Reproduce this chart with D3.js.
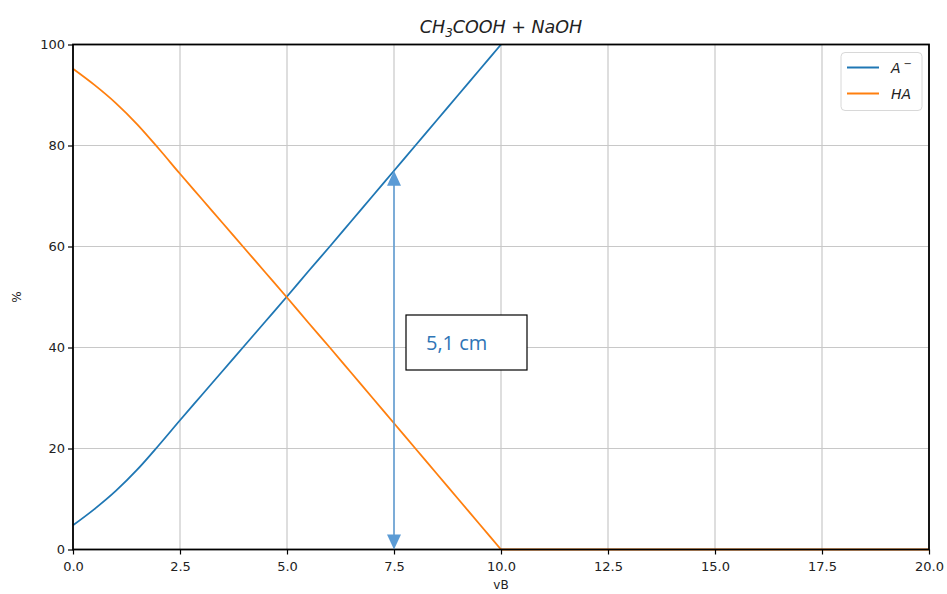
<!DOCTYPE html>
<html>
<head>
<meta charset="utf-8">
<script src="https://cdn.jsdelivr.net/npm/d3@7"></script>
<style>
  body { margin: 0; background: #fff; }
  svg { font-family: "DejaVu Sans", sans-serif; }
</style>
</head>
<body>
<svg id="chart"></svg>
<script>
const width = 947;
const height = 594;
const margin = { top: 44.5, right: 18, bottom: 44.5, left: 73 };

// values
const vB = [0, 0.5, 1, 1.5, 2, 2.5, 3, 3.5, 4, 4.5, 5, 5.5, 6, 6.5, 7, 7.5, 8, 8.5, 9, 9.5, 10];
const aMinus = [4.8, 8.0, 11.6, 15.8, 20.6, 25.6, 30.5, 35.4, 40.3, 45.2, 50.1, 55.1, 60.0, 65.0, 70.0, 75.0, 80.0, 85.0, 90.0, 95.0, 100];
const haX = [0, 0.5, 1, 1.5, 2, 2.5, 3, 3.5, 4, 4.5, 5, 5.5, 6, 6.5, 7, 7.5, 8, 8.5, 9, 9.5, 10, 12.5, 15, 17.5, 20];
const haValues = [95.2, 92.0, 88.4, 84.2, 79.4, 74.4, 69.5, 64.6, 59.7, 54.8, 49.9, 44.9, 40.0, 35.0, 30.0, 25.0, 20.0, 15.0, 10.0, 5.0, 0, 0, 0, 0, 0];
const xTicks = [0, 2.5, 5, 7.5, 10, 12.5, 15, 17.5, 20];
const yTicks = [0, 20, 40, 60, 80, 100];
const arrowX = 7.5;
const arrowTop = 75;
const arrowLabel = "5,1 cm";

const svg = d3.select("#chart").attr("width", width).attr("height", height);

const chartWidth = width - margin.left - margin.right;
const chartHeight = height - margin.top - margin.bottom;

const chart = svg
  .append("g")
  .attr("transform", `translate(${margin.left}, ${margin.top})`);

const xScale = d3.scaleLinear().domain([0, 20]).range([0, chartWidth]);
const yScale = d3.scaleLinear().domain([0, 100]).range([chartHeight, 0]);

// grid
chart
  .append("g")
  .selectAll("line.gx")
  .data(xTicks)
  .enter()
  .append("line")
  .attr("x1", (d) => xScale(d))
  .attr("x2", (d) => xScale(d))
  .attr("y1", 0)
  .attr("y2", chartHeight)
  .attr("stroke", "#c8c8c8")
  .attr("stroke-width", 1.2);

chart
  .append("g")
  .selectAll("line.gy")
  .data(yTicks)
  .enter()
  .append("line")
  .attr("x1", 0)
  .attr("x2", chartWidth)
  .attr("y1", (d) => yScale(d))
  .attr("y2", (d) => yScale(d))
  .attr("stroke", "#c8c8c8")
  .attr("stroke-width", 1.2);

// curves
const smooth = d3
  .line()
  .x((d) => xScale(d[0]))
  .y((d) => yScale(d[1]))
  .curve(d3.curveMonotoneX);
const straight = d3
  .line()
  .x((d) => xScale(d[0]))
  .y((d) => yScale(d[1]));

chart
  .append("path")
  .datum(d3.zip(vB, aMinus))
  .attr("d", smooth)
  .attr("fill", "none")
  .attr("stroke", "#1f77b4")
  .attr("stroke-width", 1.8);

// HA: smooth up to the equivalence point, flat afterwards
const haPoints = d3.zip(haX, haValues);
const eq = haX.indexOf(10);
chart
  .append("path")
  .datum(haPoints.slice(0, eq + 1))
  .attr("d", smooth)
  .attr("fill", "none")
  .attr("stroke", "#ff7f0e")
  .attr("stroke-width", 1.8);
chart
  .append("path")
  .datum(haPoints.slice(eq))
  .attr("d", straight)
  .attr("fill", "none")
  .attr("stroke", "#ff7f0e")
  .attr("stroke-width", 1.8);

// axes
const xAxis = d3
  .axisBottom(xScale)
  .tickValues(xTicks)
  .tickFormat(d3.format(".1f"))
  .tickSize(5)
  .tickSizeOuter(0);
const yAxis = d3
  .axisLeft(yScale)
  .tickValues(yTicks)
  .tickFormat(d3.format("d"))
  .tickSize(5)
  .tickSizeOuter(0);

const gx = chart
  .append("g")
  .attr("transform", `translate(0, ${chartHeight})`)
  .call(xAxis);
const gy = chart.append("g").call(yAxis);

[gx, gy].forEach((g) => {
  g.select(".domain").remove();
  g.selectAll(".tick line").attr("stroke", "#000").attr("stroke-width", 1.2);
  g.selectAll(".tick text")
    .attr("fill", "#222")
    .style("font-size", "13px")
    .style("font-family", "DejaVu Sans");
});
gx.selectAll(".tick text").attr("dy", "1.05em");
gy.selectAll(".tick text").attr("x", -8);

// spines
chart
  .append("rect")
  .attr("width", chartWidth)
  .attr("height", chartHeight)
  .attr("fill", "none")
  .attr("stroke", "#000")
  .attr("stroke-width", 1.8);

// axis labels
svg
  .append("text")
  .attr("x", margin.left + chartWidth / 2)
  .attr("y", 589)
  .attr("text-anchor", "middle")
  .style("font-size", "12px")
  .attr("fill", "#222")
  .text("vB");

svg
  .append("text")
  .attr("transform", `translate(21, ${margin.top + chartHeight / 2}) rotate(-90)`)
  .attr("text-anchor", "middle")
  .style("font-size", "12px")
  .attr("fill", "#222")
  .text("%");

// title
const title = svg
  .append("text")
  .attr("x", margin.left + chartWidth / 2)
  .attr("y", 33)
  .attr("text-anchor", "middle")
  .style("font-size", "17.5px")
  .style("font-style", "italic")
  .attr("fill", "#222");
title.append("tspan").text("CH");
title.append("tspan").attr("dy", 4).style("font-size", "12px").text("3");
title.append("tspan").attr("dy", -4).text("COOH + NaOH");

// legend
const legend = chart.append("g").attr("transform", `translate(${chartWidth - 88}, 8)`);
legend
  .append("rect")
  .attr("width", 81)
  .attr("height", 58)
  .attr("rx", 4)
  .attr("fill", "#fff")
  .attr("stroke", "#d8d8d8");
const legendItems = [
  { name: "A", sup: "\u2212", color: "#1f77b4" },
  { name: "HA", sup: "", color: "#ff7f0e" },
];
legendItems.forEach((item, i) => {
  const y = 15 + i * 26;
  legend
    .append("line")
    .attr("x1", 6)
    .attr("x2", 38)
    .attr("y1", y)
    .attr("y2", y)
    .attr("stroke", item.color)
    .attr("stroke-width", 2);
  const t = legend
    .append("text")
    .attr("x", 50)
    .attr("y", y + 5)
    .style("font-size", "14px")
    .style("font-style", "italic")
    .attr("fill", "#222");
  t.append("tspan").text(item.name);
  if (item.sup) t.append("tspan").attr("dx", 3).attr("dy", -6).style("font-size", "10px").text(item.sup);
});

// measurement arrow
const arrowColor = "#5b9bd5";
const ax = xScale(arrowX);
chart
  .append("line")
  .attr("x1", ax)
  .attr("x2", ax)
  .attr("y1", yScale(arrowTop) + 10)
  .attr("y2", yScale(0) - 10)
  .attr("stroke", arrowColor)
  .attr("stroke-width", 1.5);
chart
  .append("path")
  .attr("d", `M${ax},${yScale(arrowTop)} l-7,15 l14,0 Z`)
  .attr("fill", arrowColor);
chart
  .append("path")
  .attr("d", `M${ax},${yScale(0)} l-7,-15 l14,0 Z`)
  .attr("fill", arrowColor);

// label box
const box = svg.append("g").attr("transform", "translate(406, 315)");
box
  .append("rect")
  .attr("width", 121)
  .attr("height", 55)
  .attr("fill", "#fff")
  .attr("stroke", "#000")
  .attr("stroke-width", 1.2);
box
  .append("text")
  .attr("x", 20)
  .attr("y", 35)
  .style("font-family", "Open Sans")
  .style("font-size", "20px")
  .attr("fill", "#2e75b6")
  .text(arrowLabel);
</script>
</body>
</html>
